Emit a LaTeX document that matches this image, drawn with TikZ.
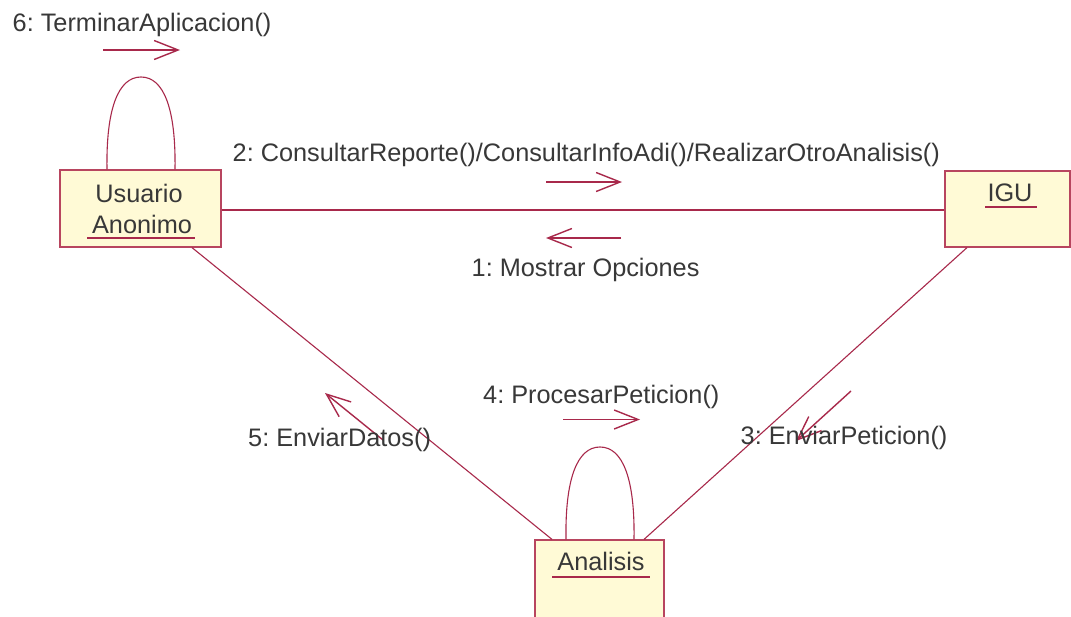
\documentclass[tikz,border=0pt]{standalone}
\usepackage{fontspec}
\setmainfont{Liberation Sans}
\usetikzlibrary{arrows.meta}
\definecolor{lnred}{HTML}{A8294B}
\definecolor{boxred}{HTML}{B8455F}
\definecolor{boxfill}{HTML}{FFFAD6}
\definecolor{txtgray}{HTML}{383838}
\frenchspacing
\begin{document}
\begin{tikzpicture}[x=1pt,y=-1pt,
  objbox/.style={draw=boxred,fill=boxfill,line width=1.2pt,rectangle,inner sep=0pt},
  lbl/.style={anchor=base west,inner sep=0pt,text=txtgray,font=\fontsize{25.3}{30}\selectfont},
  objtxt/.style={anchor=base,inner sep=0pt,text=txtgray,font=\fontsize{25.3}{30}\selectfont},
  link/.style={draw=lnred,line width=1.1pt},
  uline/.style={draw=lnred,line width=1.3pt},
  msg/.style={draw=lnred,line width=1.4pt,-{Straight Barb[length=24pt,width=19pt]}}]
\useasboundingbox (0,0) rectangle (1071,616);
\clip (0,0) rectangle (1071,616);
\fill[white] (0,0) rectangle (1071,616);
% objects
\node[objbox,minimum width=161pt,minimum height=77pt] (usu) at (140.5,208.5) {};
\node[objbox,minimum width=125pt,minimum height=76pt] (igu) at (1007.5,209) {};
\node[objbox,minimum width=129pt,minimum height=100pt] (ana) at (599.5,590) {};
\node[objtxt] (usut1) at (139,202.5) {Usuario};
\node[objtxt] (usut2) at (142,233) {Anonimo};
\node[objtxt] (igut) at (1010,201.5) {IGU};
\node[objtxt] (anat) at (601,570) {Analisis};
\draw[uline] (87,238) -- (195,238);
\draw[uline] (985,207) -- (1037,207);
\draw[uline] (552,577) -- (650,577);
% links
\draw[link] (usu.east |- 0,210) -- (igu.west |- 0,210);
\draw[link] ([xshift=51.5pt]usu.south) -- ([xshift=-47.5pt]ana.north);
\draw[link] ([xshift=-40.5pt]igu.south) -- ([xshift=44.5pt]ana.north);
% self loops
\draw[link] ([xshift=-33.5pt]usu.north) .. controls +(-1,-60) and +(-23,0) .. (141,77) .. controls +(23,0) and +(1,-60) .. ([xshift=34.5pt]usu.north);
\draw[link] ([xshift=-33.5pt]ana.north) .. controls +(-1,-60) and +(-23,0) .. (600,447) .. controls +(23,0) and +(1,-60) .. ([xshift=34.5pt]ana.north);
% messages
\coordinate (m6a) at (103,50); \coordinate (m6b) at (180,50);
\draw[msg] (m6a) -- (m6b);
\node[lbl] (l6) at (12.5,31.5) {6: TerminarAplicacion()};
\coordinate (m2a) at (546,182); \coordinate (m2b) at (622,182);
\draw[msg] (m2a) -- (m2b);
\node[lbl] (l2) at (232.5,161.5) {2: ConsultarReporte()/ConsultarInfoAdi()/RealizarOtroAnalisis()};
\coordinate (m1a) at (621,238); \coordinate (m1b) at (546,238);
\draw[msg] (m1a) -- (m1b);
\node[lbl] (l1) at (471.5,276) {1: Mostrar Opciones};
\coordinate (m4a) at (563,419.5); \coordinate (m4b) at (640,419.5);
\draw[msg] (m4a) -- (m4b);
\node[lbl] (l4) at (483,403) {4: ProcesarPeticion()};
\coordinate (m5a) at (383,440); \coordinate (m5b) at (325,393);
\draw[msg] (m5a) -- (m5b);
\node[lbl] (l5) at (248,446) {5: EnviarDatos()};
\coordinate (m3a) at (851,391); \coordinate (m3b) at (796,441);
\draw[msg] (m3a) -- (m3b);
\node[lbl] (l3) at (740.5,444) {3: EnviarPeticion()};
\end{tikzpicture}
\end{document}
